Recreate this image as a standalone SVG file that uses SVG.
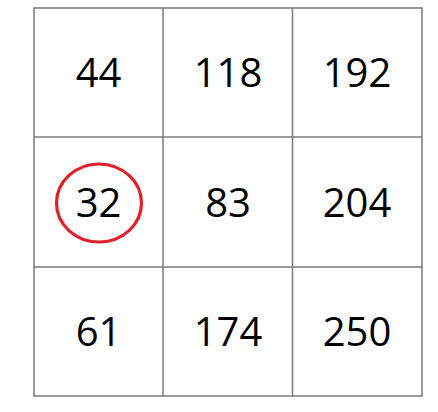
<svg xmlns="http://www.w3.org/2000/svg" width="438" height="412" viewBox="0 0 438 412">
<style>
.g{stroke:#7a7a7a;stroke-width:1.5;fill:none}
.t{font-family:"Open Sans","Noto Sans",sans-serif;font-size:40px;fill:#000;text-anchor:middle}
</style>
<rect width="438" height="412" fill="#fff"/>
<g id="grid">
<rect class="g" x="34" y="8" width="388" height="388"/>
<line class="g" x1="163" y1="8" x2="163" y2="396"/>
<line class="g" x1="292.5" y1="8" x2="292.5" y2="396"/>
<line class="g" x1="34" y1="137" x2="422" y2="137"/>
<line class="g" x1="34" y1="267" x2="422" y2="267"/>
</g>
<g id="r1">
<text class="t" x="98.5" y="87">44</text>
<text class="t" x="228" y="87">118</text>
<text class="t" x="357" y="87">192</text>
</g>
<g id="r2">
<text class="t" x="98.5" y="217">32</text>
<text class="t" x="228" y="217">83</text>
<text class="t" x="357" y="217">204</text>
</g>
<g id="r3">
<text class="t" x="98.5" y="346">61</text>
<text class="t" x="228" y="346">174</text>
<text class="t" x="357" y="346">250</text>
</g>
<g id="mark">
<ellipse cx="99" cy="203" rx="42.5" ry="39" fill="none" stroke="#e0202a" stroke-width="3.2"/>
</g>
</svg>
